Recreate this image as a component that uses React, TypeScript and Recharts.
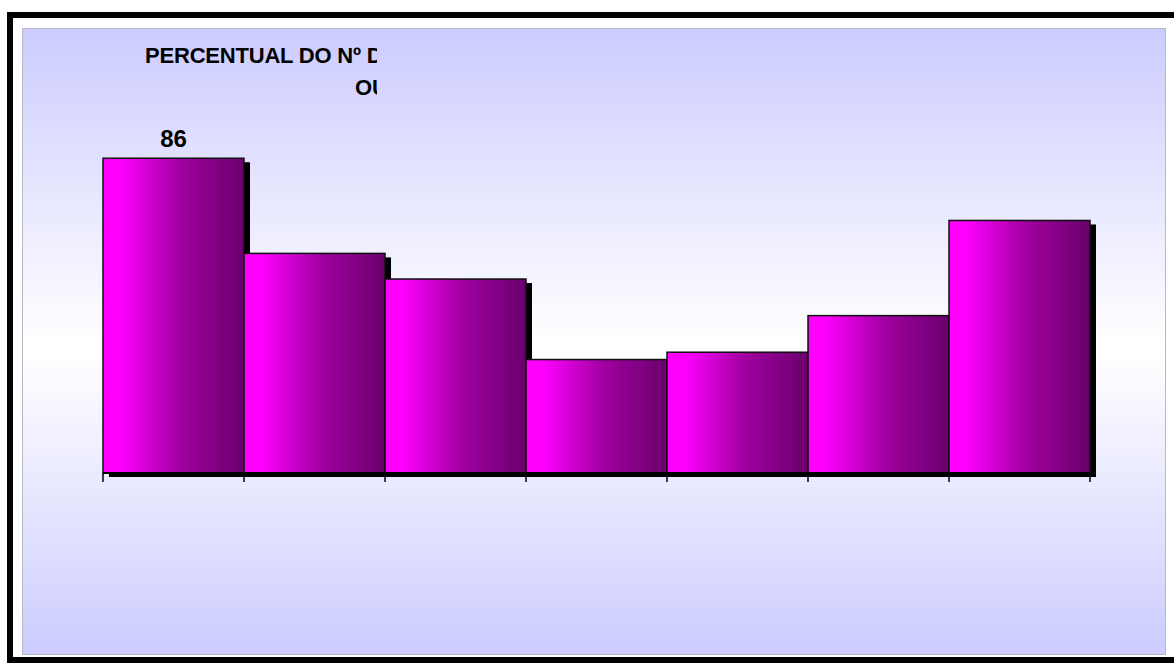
import { Bar, BarChart, LabelList, XAxis, YAxis } from "recharts"

const categories = ["1", "2", "3", "4", "5", "6", "7"]
const values = [86, 60, 53, 31, 33, 43, 69]
const titleLines = ["PERCENTUAL DO Nº DE", "OU"]

const data = categories.map((name, i) => ({ name, total: values[i] }))

const ShadowBar = (props: any) => {
  const { x, y, width, height } = props
  if (!height) return null
  return (
    <g>
      <rect x={x + 6} y={y + 4} width={width} height={height} fill="#000" />
      <rect x={x} y={y} width={width} height={height} fill="url(#barFill)" stroke="#111" strokeWidth={1.5} />
    </g>
  )
}

// tick marks sit on the category boundaries, not the centres
const EdgeTick = (props: any) => {
  const { x, y, payload, index } = props
  const half = payload?.offset ?? 0
  const top = y - 8
  return (
    <g>
      <line x1={x - half} x2={x - half} y1={top} y2={top + 9} stroke="#000" strokeWidth={1.5} />
      {index === categories.length - 1 && (
        <line x1={x + half} x2={x + half} y1={top} y2={top + 9} stroke="#000" strokeWidth={1.5} />
      )}
    </g>
  )
}

const FirstLabel = (props: any) => {
  const { x, y, width, value, index } = props
  if (index !== 0) return null
  return (
    <text
      x={x + width / 2}
      y={y - 11}
      textAnchor="middle"
      fontFamily="'Liberation Sans', Arial, sans-serif"
      fontWeight="bold"
      fontSize={24}
      fill="#000"
    >
      {value}
    </text>
  )
}

export default function App() {
  return (
    <div style={{ position: "absolute", left: 0, top: 0, width: 1174, height: 668, background: "#fff", overflow: "hidden" }}>
      {/* black frame */}
      <div
        style={{
          position: "absolute",
          left: 7,
          top: 12,
          width: 1200,
          height: 651,
          border: "6px solid #000",
          boxSizing: "border-box",
        }}
      />
      {/* plot background */}
      <div
        style={{
          position: "absolute",
          left: 22,
          top: 28,
          width: 1144,
          height: 627,
          border: "1px solid #b8b8c8",
          boxSizing: "border-box",
          background: "linear-gradient(to bottom, #ccccff 0%, #ffffff 50%, #ffffff 52%, #ccccff 100%)",
        }}
      />
      {/* title, clipped like the original */}
      <div
        style={{
          position: "absolute",
          left: 0,
          top: 0,
          width: 377,
          height: 110,
          overflow: "hidden",
          fontFamily: "'Liberation Sans', Arial, sans-serif",
          fontWeight: "bold",
          fontSize: 22,
          letterSpacing: -0.2,
          color: "#000",
          whiteSpace: "nowrap",
        }}
      >
        <div style={{ position: "absolute", left: 145, top: 43 }}>{titleLines[0]}</div>
        <div style={{ position: "absolute", left: 355, top: 75 }}>{titleLines[1]}</div>
      </div>
      <div style={{ position: "absolute", left: 0, top: 0 }}>
        <BarChart
          width={1174}
          height={668}
          data={data}
          barCategoryGap={0}
          margin={{ top: 107, right: 84, bottom: 165, left: 103 }}
        >
          <defs>
            <linearGradient id="barFill" x1="0" y1="0" x2="1" y2="0">
              <stop offset="0%" stopColor="#ff00ff" />
              <stop offset="12%" stopColor="#ff00ff" />
              <stop offset="55%" stopColor="#a000a0" />
              <stop offset="100%" stopColor="#6a006c" />
            </linearGradient>
          </defs>
          <XAxis
            dataKey="name"
            height={30}
            axisLine={{ stroke: "#000", strokeWidth: 2 }}
            tickLine={false}
            tickSize={8}
            tickMargin={0}
            interval={0}
            tick={EdgeTick}
          />
          <YAxis hide domain={[0, 100]} />
          <Bar dataKey="total" shape={ShadowBar} isAnimationActive={false}>
            <LabelList dataKey="total" content={FirstLabel} />
          </Bar>
        </BarChart>
      </div>
    </div>
  )
}
